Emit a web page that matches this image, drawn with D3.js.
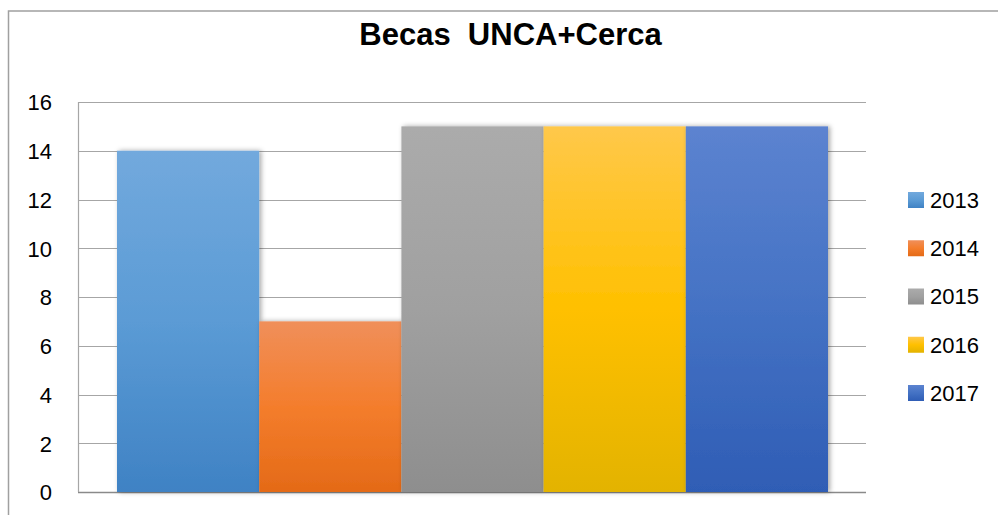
<!DOCTYPE html>
<html><head><meta charset="utf-8">
<script src="https://cdn.jsdelivr.net/npm/d3@7"></script>
<style>html,body{margin:0;padding:0;background:#fff;}svg{display:block;}</style>
</head><body>
<svg id="chart" width="998" height="515"></svg>
<script>
const title = "Becas  UNCA+Cerca";
const years = ["2013","2014","2015","2016","2017"];
const values = [14, 7, 15, 15, 15];
const yTicks = [0,2,4,6,8,10,12,14,16];
const topColors = ["#72a9dd","#f08f5a","#ababab","#ffc84a","#5c83d0"];
const midColors = ["#5b9bd5","#f47d2c","#a0a0a0","#ffc000","#4472c4"];
const botColors = ["#3f82c4","#e46a17","#8e8e8e","#e3b300","#2f5db5"];

(function(){
const svg = d3.select("#chart");
const W = 998, H = 515;
const pL = 78, pR = 866, pT = 102, pB = 492;

const defs = svg.append("defs");
years.forEach((yr,i)=>{
  const g = defs.append("linearGradient").attr("id","g"+i).attr("x1",0).attr("y1",0).attr("x2",0).attr("y2",1);
  g.append("stop").attr("offset","0%").attr("stop-color",topColors[i]);
  g.append("stop").attr("offset","50%").attr("stop-color",midColors[i]);
  g.append("stop").attr("offset","100%").attr("stop-color",botColors[i]);
});
const f = defs.append("filter").attr("id","sh").attr("x","-10%").attr("y","-10%").attr("width","130%").attr("height","120%");
f.append("feDropShadow").attr("dx",2).attr("dy",0).attr("stdDeviation",2.5).attr("flood-color","#000").attr("flood-opacity",0.35);

// border
svg.append("path").attr("d",`M8.5,${H} L8.5,11 L${W},11`).attr("fill","none").attr("stroke","#a0a0a0").attr("stroke-width",1.5);

const y = d3.scaleLinear().domain([0,16]).range([pB, pT]);
const x = d3.scaleBand().domain(years).range([pL + 39, pR - 38]).padding(0);

// gridlines
svg.append("g").selectAll("line").data(yTicks).join("line")
  .attr("x1",pL).attr("x2",pR)
  .attr("y1",d=>Math.round(y(d))+0.5).attr("y2",d=>Math.round(y(d))+0.5)
  .attr("stroke",d=>d===0?"#8a8a8a":"#a6a6a6").attr("stroke-width",d=>d===0?1.5:1.2);
svg.append("line").attr("x1",pL+0.5).attr("x2",pL+0.5).attr("y1",y(16)).attr("y2",y(0))
  .attr("stroke","#a6a6a6").attr("stroke-width",1.2);

// bars
svg.append("g").selectAll("rect").data(values).join("rect")
  .attr("x",(d,i)=>x(years[i])).attr("width",x.bandwidth())
  .attr("y",d=>y(d)).attr("height",d=>y(0)-y(d))
  .attr("fill",(d,i)=>`url(#g${i})`).attr("filter","url(#sh)");

// y axis labels
const yAxis = d3.axisLeft(y).tickValues(yTicks).tickSize(0).tickPadding(0);
const ga = svg.append("g").attr("transform","translate(52,0)").call(yAxis);
ga.select(".domain").remove();
ga.selectAll("text").attr("font-family","Liberation Sans, Arial, sans-serif").attr("font-size",22).attr("fill","#000").attr("dy","0.36em");

// title
svg.append("text").attr("x",510.5).attr("y",45).attr("text-anchor","middle")
  .attr("font-family","Liberation Sans, Arial, sans-serif").attr("font-weight","bold").attr("font-size",31)
  .attr("fill","#000").style("white-space","pre").text(title);

// legend
const ly = d3.scalePoint().domain(years).range([200,393]);
const items = svg.append("g").selectAll("g").data(years).join("g").attr("transform",d=>`translate(908,${ly(d)})`);
items.append("rect").attr("x",0).attr("y",-8).attr("width",16).attr("height",16).attr("fill",(d,i)=>`url(#g${i})`);
items.append("text").attr("x",22).attr("y",0).attr("dy","0.36em")
  .attr("font-family","Liberation Sans, Arial, sans-serif").attr("font-size",22).attr("fill","#000").text(d=>d);
})();
</script>
</body></html>
